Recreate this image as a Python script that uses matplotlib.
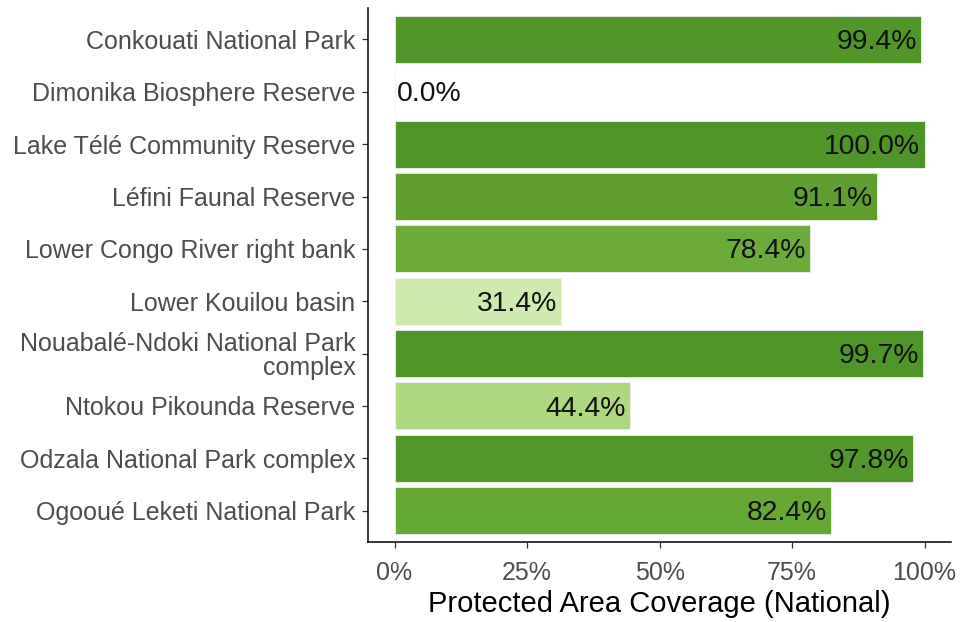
import matplotlib
matplotlib.use("Agg")
import matplotlib.pyplot as plt
from matplotlib.colors import LinearSegmentedColormap
import numpy as np

plt.rcParams['font.family'] = ['Liberation Sans', 'DejaVu Sans']

categories = [
    "Conkouati National Park",
    "Dimonika Biosphere Reserve",
    "Lake Télé Community Reserve",
    "Léfini Faunal Reserve",
    "Lower Congo River right bank",
    "Lower Kouilou basin",
    "Nouabalé-Ndoki National Park\ncomplex",
    "Ntokou Pikounda Reserve",
    "Odzala National Park complex",
    "Ogooué Leketi National Park",
]
coverage = [99.4, 0.0, 100.0, 91.1, 78.4, 31.4, 99.7, 44.4, 97.8, 82.4]
xticks = [0, 25, 50, 75, 100]
xticklabels = ["0%", "25%", "50%", "75%", "100%"]

cmap = LinearSegmentedColormap.from_list(
    "greens",
    [(0.0, "#eef8e0"), (0.314, "#cfeaae"), (0.444, "#add87d"),
     (0.784, "#6aac37"), (0.911, "#5d9e2e"), (1.0, "#4e9528")])

fig = plt.figure(figsize=(9.61, 6.22), dpi=100)
ax = fig.add_axes([0.383, 0.1286, 0.6066, 0.8584])

y = np.arange(len(categories))
colors = [cmap(v / 100) for v in coverage]
ax.barh(y, coverage, height=0.9, color=colors, edgecolor="#f0f0f0", linewidth=0.6)

for yi, v in zip(y, coverage):
    label = f"{v:.1f}%"
    if v > 5:
        ax.text(v - 0.8, yi + 0.05, label, ha="right", va="center", fontsize=20.3, color="#111111")
    else:
        ax.text(v + 0.4, yi + 0.05, label, ha="left", va="center", fontsize=20.3, color="#111111")

ax.set_xlim(-5, 105)
ax.set_ylim(len(categories) - 0.4, -0.6)
ax.set_yticks(y)
ax.set_yticklabels(categories, fontsize=18, color="#4d4d4d", multialignment="right",
                   linespacing=1.0)
ax.set_xticks(xticks)
ax.set_xticklabels(xticklabels, fontsize=18, color="#4d4d4d")
ax.set_xlabel("Protected Area Coverage (National)", fontsize=21, color="black", labelpad=3)

for s in ["top", "right"]:
    ax.spines[s].set_visible(False)
for s in ["left", "bottom"]:
    ax.spines[s].set_linewidth(1.1)
    ax.spines[s].set_color("black")
ax.tick_params(axis="both", length=4, width=0.9, color="#333333")
ax.tick_params(axis="x", pad=10)
ax.tick_params(axis="y", pad=5)

fig.savefig("out.png", dpi=100)
